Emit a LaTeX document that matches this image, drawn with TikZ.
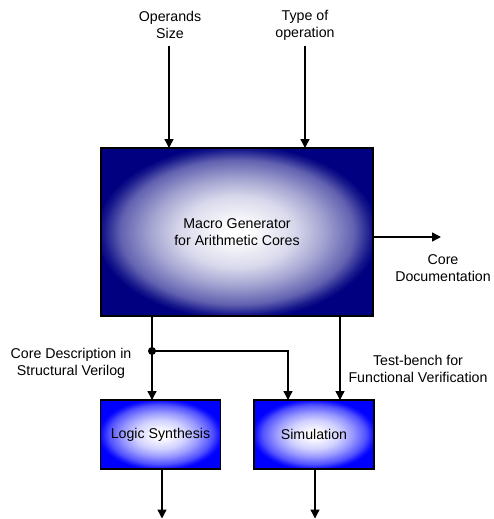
\documentclass[tikz,border=0pt]{standalone}
\usepackage{fontspec}
\setmainfont{Liberation Sans}
\usetikzlibrary{arrows.meta}

\definecolor{deepnavy}{RGB}{0,0,128}
\definecolor{brightblue}{RGB}{0,0,255}

% elliptical glows: the shading is stretched so that 25bp meets the box edges
\pgfdeclareradialshading{navyglow}{\pgfpoint{0bp}{0bp}}{%
  color(0bp)=(white); color(2bp)=(white);
  color(10.5bp)=(deepnavy!15!white); color(16bp)=(deepnavy!36!white);
  color(21.5bp)=(deepnavy!62!white); color(24.5bp)=(deepnavy!90!white);
  color(26bp)=(deepnavy); color(50bp)=(deepnavy)}
\pgfdeclareradialshading{blueglow}{\pgfpoint{0bp}{0bp}}{%
  color(0bp)=(white); color(2.5bp)=(white);
  color(10.5bp)=(brightblue!18!white); color(16bp)=(brightblue!40!white);
  color(21.5bp)=(brightblue!68!white); color(24.5bp)=(brightblue!92!white);
  color(26bp)=(brightblue); color(50bp)=(brightblue)}

\tikzset{
  txt/.style={align=center, font=\fontsize{14.2}{17}\selectfont, inner sep=0pt},
  bigblock/.style={draw=black, line width=1.4pt, shade, shading=navyglow,
    minimum width=272pt, minimum height=168pt, inner sep=0pt, outer sep=0pt,
    align=center, font=\fontsize{14.2}{17}\selectfont},
  smallblock/.style={draw=black, line width=1.4pt, shade, shading=blueglow,
    minimum width=120pt, minimum height=69pt, inner sep=0pt, outer sep=0pt,
    align=center, font=\fontsize{14.2}{17}\selectfont},
  arr/.style={line width=1.4pt, -{Triangle[length=9pt,width=9pt]}},
  wire/.style={line width=1.4pt}
}

\begin{document}
\begin{tikzpicture}[x=1pt, y=-1pt]
  \useasboundingbox (0,0) rectangle (494,519);

  % blocks
  \node[bigblock] (gen) at (237,232) {Macro Generator\\for Arithmetic Cores};
  \node[smallblock] (syn) at (160.5,434.5) {Logic Synthesis};
  \node[smallblock] (sim) at (314,434.5) {Simulation};

  % inputs
  \node[txt] (opsz) at (170,25) {Operands\\Size};
  \node[txt] (optype) at (305,25) {Type of\\operation};
  \coordinate (opszin) at (169,46);
  \coordinate (optypein) at (305,46);
  \draw[arr] (opszin) -- (opszin |- gen.north);
  \draw[arr] (optypein) -- (optypein |- gen.north);

  % documentation output
  \coordinate (docout) at (441,237);
  \draw[arr] (docout -| gen.east) -- (docout);
  \node[txt] (doc) at (443,268.5) {Core\\Documentation};

  % structural Verilog, split to synthesis and simulation
  \coordinate (tap) at (152,351);
  \coordinate (simin) at (288,351);
  \draw[wire] (tap |- gen.south) -- (tap);
  \draw[arr] (tap) -- (tap |- syn.north);
  \draw[arr] (tap) -- (simin) -- (simin |- sim.north);
  \fill (tap) circle (4pt);
  \node[txt] (verilog) at (71,363.5) {Core Description in\\Structural Verilog};

  % test-bench into simulation
  \coordinate (tbin) at (340,351);
  \draw[arr] (tbin |- gen.south) -- (tbin |- sim.north);
  \node[txt] (tb) at (418,368.5) {Test-bench for\\Functional Verification};

  % results
  \coordinate (synout) at (162,518.5);
  \coordinate (simout) at (315,518.5);
  \draw[arr] (synout |- syn.south) -- (synout);
  \draw[arr] (simout |- sim.south) -- (simout);
\end{tikzpicture}
\end{document}
